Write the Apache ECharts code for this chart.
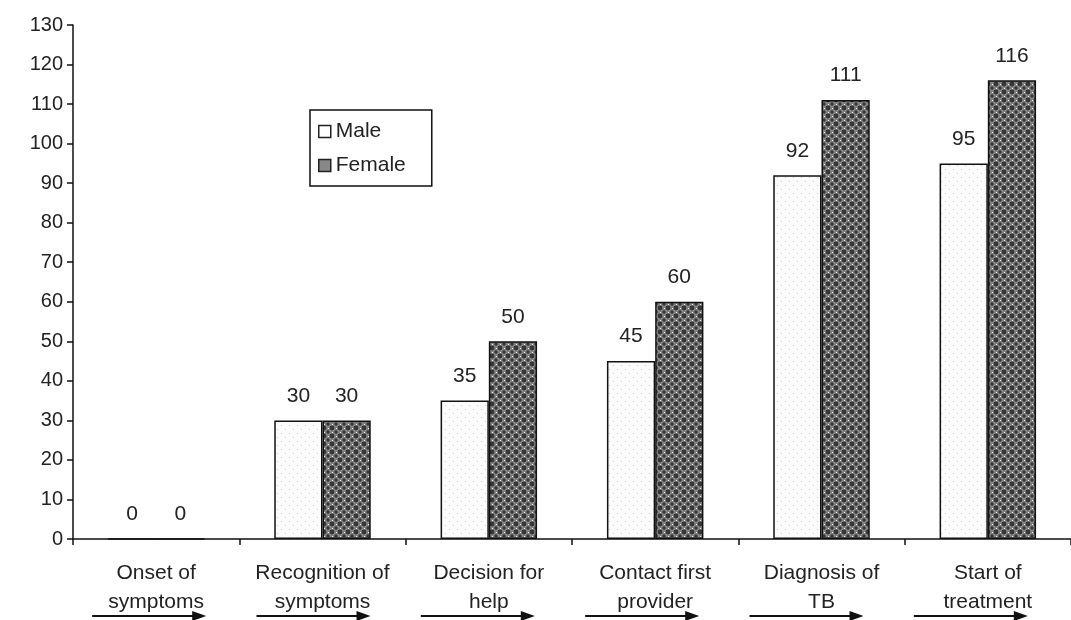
<!DOCTYPE html>
<html>
<head>
<meta charset="utf-8">
<script src="https://cdn.jsdelivr.net/npm/echarts@6/dist/echarts.min.js"></script>
<style>html,body{margin:0;padding:0;background:#fff}#c{width:1071px;height:620px}</style>
</head>
<body>
<div id="c"></div>
<script>
const categories = ['Onset of\nsymptoms', 'Recognition of\nsymptoms', 'Decision for\nhelp', 'Contact first\nprovider', 'Diagnosis of\nTB', 'Start of\ntreatment'];
const maleValues = [0, 30, 35, 45, 92, 95];
const femaleValues = [0, 30, 50, 60, 111, 116];
const seriesNames = ['Male', 'Female'];

function makeTile(bg, draw) {
  const c = document.createElement('canvas');
  c.width = 8; c.height = 8;
  const g = c.getContext('2d');
  g.fillStyle = bg; g.fillRect(0, 0, 8, 8);
  draw(g);
  return c;
}
const maleTile = makeTile('#fbfbfb', g => {
  g.fillStyle = '#cfcfcf';
  g.fillRect(1, 1, 1, 1);
  g.fillRect(5, 5, 1, 1);
});
const femaleTile = makeTile('#858585', g => {
  g.fillStyle = '#363636';
  g.beginPath(); g.arc(4, 4, 2.4, 0, Math.PI * 2); g.fill();
  g.beginPath(); g.arc(0, 0, 1.7, 0, Math.PI * 2); g.fill();
  g.beginPath(); g.arc(8, 0, 1.7, 0, Math.PI * 2); g.fill();
  g.beginPath(); g.arc(0, 8, 1.7, 0, Math.PI * 2); g.fill();
  g.beginPath(); g.arc(8, 8, 1.7, 0, Math.PI * 2); g.fill();
  g.fillStyle = '#eeeeee';
  g.fillRect(0, 4, 1, 1); g.fillRect(4, 0, 1, 1);
});

const chart = echarts.init(document.getElementById('c'));
const font = 'Liberation Sans, Arial, sans-serif';
const labelStyle = { show: true, position: 'top', distance: 14, fontSize: 21, color: '#222', fontFamily: font };

chart.setOption({
  animation: false,
  backgroundColor: '#fff',
  grid: { left: 73, top: 25, width: 1001, bottom: 81, containLabel: false },
  legend: {
    orient: 'vertical', left: 310, top: 110,
    padding: [10, 26, 9, 8], itemGap: 11,
    borderColor: '#111', borderWidth: 1.5,
    itemWidth: 12, itemHeight: 12, icon: 'rect',
    textStyle: { fontSize: 21, lineHeight: 23, color: '#222', fontFamily: font },
    data: [
      { name: seriesNames[0], itemStyle: { color: '#fff', borderColor: '#222', borderWidth: 1.5 } },
      { name: seriesNames[1], itemStyle: { color: '#888', borderColor: '#222', borderWidth: 1.5 } }
    ]
  },
  xAxis: {
    type: 'category', data: categories,
    axisLine: { lineStyle: { color: '#111', width: 1.5 } },
    axisTick: { show: true, length: 6, lineStyle: { color: '#111', width: 1.5 } },
    axisLabel: { fontSize: 21, lineHeight: 29, color: '#222', fontFamily: font, margin: 20, interval: 0 }
  },
  yAxis: {
    type: 'value', min: 0, max: 130, interval: 10,
    splitLine: { show: false },
    axisLine: { show: true, lineStyle: { color: '#111', width: 1.5 } },
    axisTick: { show: true, length: 6, lineStyle: { color: '#111', width: 1.5 } },
    axisLabel: { fontSize: 20, color: '#222', fontFamily: font, margin: 10 }
  },
  series: [
    { name: seriesNames[0], type: 'bar', data: maleValues, barWidth: '29%', barGap: '0%',
      itemStyle: { color: { image: maleTile, repeat: 'repeat' }, borderColor: '#111', borderWidth: 1.5 },
      label: labelStyle },
    { name: seriesNames[1], type: 'bar', data: femaleValues, barWidth: '29%', barGap: '0%',
      itemStyle: { color: { image: femaleTile, repeat: 'repeat' }, borderColor: '#111', borderWidth: 1.5 },
      label: labelStyle }
  ]
});

// arrows under each category label
const arrowY = chart.convertToPixel({ yAxisIndex: 0 }, 0) + 77;
const graphics = [];
categories.forEach((c, i) => {
  const cx = chart.convertToPixel({ xAxisIndex: 0 }, i);
  const x0 = cx - 64 - i * 2, x1 = cx + 50 - i * 2;
  graphics.push({ type: 'line', shape: { x1: x0, y1: arrowY, x2: x1 - 10, y2: arrowY }, style: { stroke: '#111', lineWidth: 2 }, silent: true });
  graphics.push({ type: 'polygon', shape: { points: [[x1 - 14, arrowY - 5], [x1, arrowY], [x1 - 14, arrowY + 5]] }, style: { fill: '#111' }, silent: true });
});
chart.setOption({ graphic: graphics });
</script>
</body>
</html>
